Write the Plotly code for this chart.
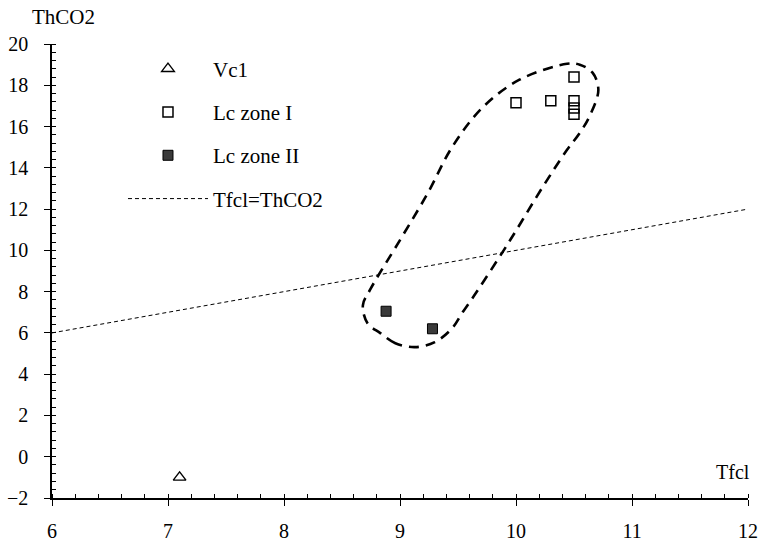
import plotly.graph_objects as go

# ---- data ----
vc1_x = [7.1]
vc1_y = [-1.0]

lc1_x = [10.0, 10.3, 10.5, 10.5, 10.5, 10.5]
lc1_y = [17.15, 17.25, 18.4, 17.25, 16.9, 16.6]

lc2_x = [8.88, 9.28]
lc2_y = [7.05, 6.2]

eq_x = [6, 12]
eq_y = [6, 12]

# hand-drawn enclosure (outline points)
loop_x = [9.13, 8.96, 8.83, 8.72, 8.68, 8.74, 9.00, 9.24, 9.45, 9.71, 10.03,
          10.44, 10.55, 10.66, 10.71, 10.64, 10.55, 10.44, 10.23, 9.95, 9.66,
          9.54, 9.45, 9.30, 9.13]
loop_y = [5.31, 5.50, 5.99, 6.47, 7.34, 8.07, 10.5, 12.78, 15.01, 16.91, 18.27,
          19.04, 19.0, 18.61, 17.78, 16.57, 15.69, 14.87, 13.07, 10.5, 7.98,
          7.0, 6.23, 5.55, 5.31]

x_ticks = [6, 7, 8, 9, 10, 11, 12]
y_ticks = [-2, 0, 2, 4, 6, 8, 10, 12, 14, 16, 18, 20]

FONT = "Liberation Serif, Times New Roman, serif"

fig = go.Figure()

fig.add_trace(go.Scatter(
    x=loop_x, y=loop_y, mode="lines", line_shape="spline",
    line=dict(color="black", width=2.6, dash="10px,7px"),
    showlegend=False, hoverinfo="skip"))

fig.add_trace(go.Scatter(
    x=eq_x, y=eq_y, mode="lines", name="Tfcl=ThCO2",
    line=dict(color="black", width=1, dash="4px,3px"),
    legendgroup="d", legendrank=4))

fig.add_trace(go.Scatter(
    x=vc1_x, y=vc1_y, mode="markers", name="Vc1",
    marker=dict(symbol="triangle-up-open", size=11, color="black",
                line=dict(color="black", width=1.4)),
    legendgroup="a", legendrank=1))

fig.add_trace(go.Scatter(
    x=lc1_x, y=lc1_y, mode="markers", name="Lc zone I",
    marker=dict(symbol="square-open", size=10, color="black",
                line=dict(color="black", width=1.5)),
    legendgroup="b", legendrank=2))

fig.add_trace(go.Scatter(
    x=lc2_x, y=lc2_y, mode="markers", name="Lc zone II",
    marker=dict(symbol="square", size=10, color="#3a3a3a",
                line=dict(color="black", width=1)),
    legendgroup="c", legendrank=3))

axis_common = dict(
    showgrid=False, zeroline=False, showline=True, linecolor="black",
    linewidth=1.5, ticks="outside", ticklen=6, tickwidth=1.3,
    tickcolor="black", tickfont=dict(family=FONT, size=20, color="black"),
    automargin=False,
)

fig.update_layout(
    width=761, height=544,
    margin=dict(l=52, r=13, t=44, b=46, pad=0, autoexpand=False),
    plot_bgcolor="white", paper_bgcolor="white",
    font=dict(family=FONT, size=20, color="black"),
    xaxis=dict(range=[6, 12], tickvals=x_ticks, ticklabelstandoff=8,
               minor=dict(ticks="inside", ticklen=4, dtick=0.2, tick0=6,
                          tickcolor="black", tickwidth=1),
               **axis_common),
    yaxis=dict(range=[-2, 20], tickvals=y_ticks, ticklabelstandoff=12,
               minor=dict(ticks="inside", ticklen=4, dtick=0.4, tick0=-2,
                          tickcolor="black", tickwidth=1),
               **axis_common),
    xaxis2=dict(range=[6, 12], overlaying="x", anchor="y", side="bottom",
                tickvals=x_ticks, ticks="inside", ticklen=6, tickwidth=1.3,
                tickcolor="black", showticklabels=False, showgrid=False,
                zeroline=False, showline=False, automargin=False),
    yaxis2=dict(range=[-2, 20], overlaying="y", anchor="x", side="left",
                tickvals=y_ticks, ticks="inside", ticklen=6, tickwidth=1.3,
                tickcolor="black", showticklabels=False, showgrid=False,
                zeroline=False, showline=False, automargin=False),
    showlegend=True,
    legend=dict(x=0.102, y=0.99, xanchor="left", yanchor="top",
                bgcolor="rgba(0,0,0,0)", borderwidth=0,
                font=dict(family=FONT, size=21, color="black"),
                itemwidth=80, tracegroupgap=13, traceorder="grouped"),
    annotations=[
        dict(text="ThCO2", xref="paper", yref="paper",
             x=(63 - 52) / 696, y=1 + (44 - 17) / 454,
             xanchor="center", yanchor="middle", showarrow=False,
             font=dict(family=FONT, size=21, color="black")),
        dict(text="Tfcl", xref="paper", yref="paper",
             x=(733 - 52) / 696, y=(497.5 - 471) / 454,
             xanchor="center", yanchor="middle", showarrow=False,
             font=dict(family=FONT, size=20, color="black")),
    ],
)

fig.write_html("out.html",
               config={"displayModeBar": False},
               post_script="document.body.style.margin='0';")
